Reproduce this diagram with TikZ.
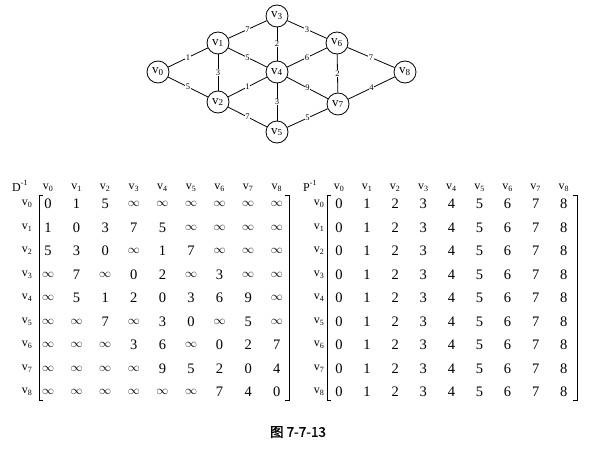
\documentclass[tikz,border=0pt]{standalone}
\usepackage{fontspec}
\setmainfont{Liberation Serif}
\newfontfamily\cjk[FakeBold=1.2]{Noto Sans CJK SC}
\begin{document}
\begin{tikzpicture}[x=1pt,y=-1pt,
  vert/.style={circle,draw,line width=0.8pt,minimum size=22pt,inner sep=0pt,font=\fontsize{13}{13}\selectfont},
  edge/.style={line width=0.8pt},
  wlab/.style={fill=white,inner sep=0.6pt,font=\fontsize{8.5}{9}\selectfont},
  ent/.style={inner sep=0pt,font=\fontsize{14.5}{14.5}\selectfont},
  hd/.style={inner sep=0pt,font=\fontsize{12}{12}\selectfont},
  brk/.style={line width=1pt}]
\useasboundingbox (0,0) rectangle (595,452);
% graph
\node[vert] (v0) at (158,72) {v\textsubscript{0}};
\node[vert] (v1) at (218,43) {v\textsubscript{1}};
\node[vert] (v2) at (218,102) {v\textsubscript{2}};
\node[vert] (v3) at (277,16) {v\textsubscript{3}};
\node[vert] (v4) at (277,72) {v\textsubscript{4}};
\node[vert] (v5) at (277,132) {v\textsubscript{5}};
\node[vert] (v6) at (337,43) {v\textsubscript{6}};
\node[vert] (v7) at (338,104) {v\textsubscript{7}};
\node[vert] (v8) at (405,72) {v\textsubscript{8}};
\foreach \a/\b/\w in {v0/v1/1,v0/v2/5,v1/v3/7,v1/v2/3,v1/v4/5,v3/v4/2,v3/v6/3,v6/v4/6,v6/v8/7,v6/v7/2,v4/v2/1,v4/v7/9,v4/v5/3,v2/v5/7,v5/v7/5,v7/v8/4}
  \draw[edge] (\a) -- node[wlab] {\w} (\b);
% labels
\node[hd,anchor=base west] (dlab) at (12,191) {D\raisebox{0.45em}{\fontsize{8}{8}\selectfont -1}};
\node[hd,anchor=base west] (plab) at (303,191) {P\raisebox{0.45em}{\fontsize{8}{8}\selectfont -1}};
\foreach \j in {0,...,8}{
  \node[hd] (dh\j) at ({48+28.6*\j},188) {v\textsubscript{\j}};
  \node[hd] (ph\j) at ({339+28.1*\j},188) {v\textsubscript{\j}};
  \node[hd] (dr\j) at (27,{204+23.5*\j}) {v\textsubscript{\j}};
  \node[hd] (pr\j) at (319,{204+23.5*\j}) {v\textsubscript{\j}};
}
\def\I{{\fontsize{11.5}{11.5}\selectfont$\infty$}}
\newcommand\drow[2]{%
  \foreach \v [count=\c from 0] in {#2}{
    \node[ent] (d#1\c) at ({48+28.6*\c},{204+23.5*#1}) {\v};
  }}
\drow{0}{0,1,5,\I,\I,\I,\I,\I,\I}
\drow{1}{1,0,3,7,5,\I,\I,\I,\I}
\drow{2}{5,3,0,\I,1,7,\I,\I,\I}
\drow{3}{\I,7,\I,0,2,\I,3,\I,\I}
\drow{4}{\I,5,1,2,0,3,6,9,\I}
\drow{5}{\I,\I,7,\I,3,0,\I,5,\I}
\drow{6}{\I,\I,\I,3,6,\I,0,2,7}
\drow{7}{\I,\I,\I,\I,9,5,2,0,4}
\drow{8}{\I,\I,\I,\I,\I,\I,7,4,0}
\foreach \i in {0,...,8}{
  \foreach \c in {0,...,8}{
    \node[ent] (p\i\c) at ({339+28.1*\c},{204+23.5*\i}) {\c};
  }}
% brackets
\draw[brk] (43,195) -- (39,195) -- (39,400) -- (43,400);
\draw[brk] (285,195) -- (289,195) -- (289,400) -- (285,400);
\draw[brk] (331,195) -- (327,195) -- (327,400) -- (331,400);
\draw[brk] (573,195) -- (577,195) -- (577,400) -- (573,400);
% caption
\node[font=\cjk\fontsize{13.5}{13.5}\selectfont] (cap) at (298,432) {图 7-7-13};
\end{tikzpicture}
\end{document}
